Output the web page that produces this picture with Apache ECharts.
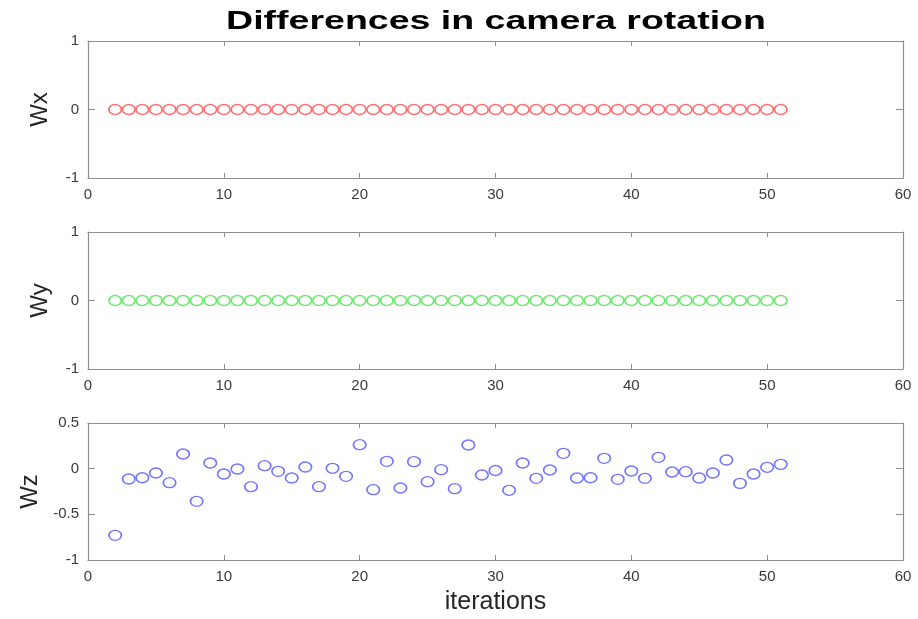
<!DOCTYPE html>
<html>
<head>
<meta charset="utf-8">
<script src="https://cdn.jsdelivr.net/npm/echarts@6/dist/echarts.min.js"></script>
<style>
  html, body { margin: 0; padding: 0; background: #ffffff; }
  #chart { width: 918px; height: 619px; }
</style>
</head>
<body>
<div id="chart"></div>
<script>
// Iteration numbers shared by all three panels
const iterations = [2, 3, 4, 5, 6, 7, 8, 9, 10, 11, 12, 13, 14, 15, 16, 17, 18, 19, 20, 21,
  22, 23, 24, 25, 26, 27, 28, 29, 30, 31, 32, 33, 34, 35, 36, 37, 38, 39, 40, 41,
  42, 43, 44, 45, 46, 47, 48, 49, 50, 51];

// Rotation differences per axis
const wx = [0, 0, 0, 0, 0, 0, 0, 0, 0, 0, 0, 0, 0, 0, 0, 0, 0, 0, 0, 0,
  0, 0, 0, 0, 0, 0, 0, 0, 0, 0, 0, 0, 0, 0, 0, 0, 0, 0, 0, 0,
  0, 0, 0, 0, 0, 0, 0, 0, 0, 0];
const wy = [0, 0, 0, 0, 0, 0, 0, 0, 0, 0, 0, 0, 0, 0, 0, 0, 0, 0, 0, 0,
  0, 0, 0, 0, 0, 0, 0, 0, 0, 0, 0, 0, 0, 0, 0, 0, 0, 0, 0, 0,
  0, 0, 0, 0, 0, 0, 0, 0, 0, 0];
const wz = [-0.73, -0.113, -0.099, -0.047, -0.153, 0.161, -0.358, 0.062, -0.058, -0.004,
  -0.197, 0.033, -0.029, -0.102, 0.018, -0.197, 0.004, -0.084, 0.263, -0.23,
  0.08, -0.212, 0.077, -0.142, -0.011, -0.219, 0.259, -0.069, -0.02, -0.237,
  0.062, -0.106, -0.015, 0.168, -0.102, -0.099, 0.113, -0.117, -0.026, -0.106,
  0.124, -0.036, -0.033, -0.102, -0.047, 0.095, -0.161, -0.058, 0.015, 0.047];

// Tick settings
const xTicks = { min: 0, max: 60, interval: 10 };
const yTicksXY = { min: -1, max: 1, interval: 1 };
const yTicksZ = { min: -1, max: 0.5, interval: 0.5 };

const panels = [
  { name: 'Wx', values: wx, color: '#ff6f6f', y: yTicksXY },
  { name: 'Wy', values: wy, color: '#6de86d', y: yTicksXY },
  { name: 'Wz', values: wz, color: '#7373ff', y: yTicksZ }
];

const axisColor = '#8f8f8f';
const labelColor = '#3a3a3a';
const fontFamily = 'Liberation Sans, Arial, Helvetica, sans-serif';

const gridTops = [41, 232, 423];
const grids = [], xAxes = [], yAxes = [], series = [];

// shared axis pieces for the boxed frame
function frameLine() {
  return { show: true, onZero: false, lineStyle: { color: axisColor, width: 1.2 } };
}
function frameTick(len) {
  return { show: true, inside: true, length: len, lineStyle: { color: axisColor } };
}

panels.forEach(function (p, i) {
  grids.push({ left: 88, width: 815, top: gridTops[i], height: 137 });
  const last = i === panels.length - 1;
  // bottom x axis with labels
  xAxes.push({
    type: 'value', gridIndex: i, position: 'bottom',
    min: xTicks.min, max: xTicks.max, interval: xTicks.interval,
    axisLine: frameLine(),
    axisTick: frameTick(5),
    axisLabel: { show: true, color: labelColor, fontSize: 15, margin: 9, fontFamily: fontFamily },
    splitLine: { show: false },
    name: last ? 'iterations' : '',
    nameLocation: 'middle', nameGap: 30,
    nameTextStyle: { fontSize: 25, color: '#262626', fontFamily: fontFamily }
  });
  // top x axis: box edge with ticks only
  xAxes.push({
    type: 'value', gridIndex: i, position: 'top',
    min: xTicks.min, max: xTicks.max, interval: xTicks.interval,
    axisLine: frameLine(),
    axisTick: frameTick(5),
    axisLabel: { show: false },
    splitLine: { show: false }
  });
  // left y axis with labels and name
  yAxes.push({
    type: 'value', gridIndex: i, position: 'left',
    min: p.y.min, max: p.y.max, interval: p.y.interval,
    axisLine: frameLine(),
    axisTick: frameTick(7),
    axisLabel: { show: true, color: labelColor, fontSize: 15, margin: 9, fontFamily: fontFamily },
    splitLine: { show: false },
    name: p.name, nameLocation: 'middle', nameGap: 36, nameRotate: 90,
    nameTextStyle: { fontSize: 24, color: '#262626', fontFamily: fontFamily }
  });
  // right y axis: box edge with ticks only
  yAxes.push({
    type: 'value', gridIndex: i, position: 'right',
    min: p.y.min, max: p.y.max, interval: p.y.interval,
    axisLine: frameLine(),
    axisTick: frameTick(7),
    axisLabel: { show: false },
    splitLine: { show: false }
  });
  series.push({
    type: 'scatter', name: p.name,
    xAxisIndex: i * 2, yAxisIndex: i * 2,
    symbol: 'circle', symbolSize: [12.5, 10],
    itemStyle: { color: 'rgba(255,255,255,0)', borderColor: p.color, borderWidth: 1.5, opacity: 1 },
    emphasis: { disabled: true },
    data: iterations.map(function (it, k) { return [it, p.values[k]]; })
  });
});

const chart = echarts.init(document.getElementById('chart'), null, { renderer: 'canvas' });
chart.setOption({
  backgroundColor: '#ffffff',
  animation: false,
  graphic: [{
    type: 'text',
    x: 496, y: 22,
    scaleX: 1.5, scaleY: 1,
    originX: 0, originY: 0,
    style: {
      text: 'Differences in camera rotation',
      fontSize: 25, fontWeight: 'bold', fontFamily: fontFamily,
      fill: '#000000', align: 'center', verticalAlign: 'middle'
    }
  }],
  grid: grids,
  xAxis: xAxes,
  yAxis: yAxes,
  series: series
});
</script>
</body>
</html>
